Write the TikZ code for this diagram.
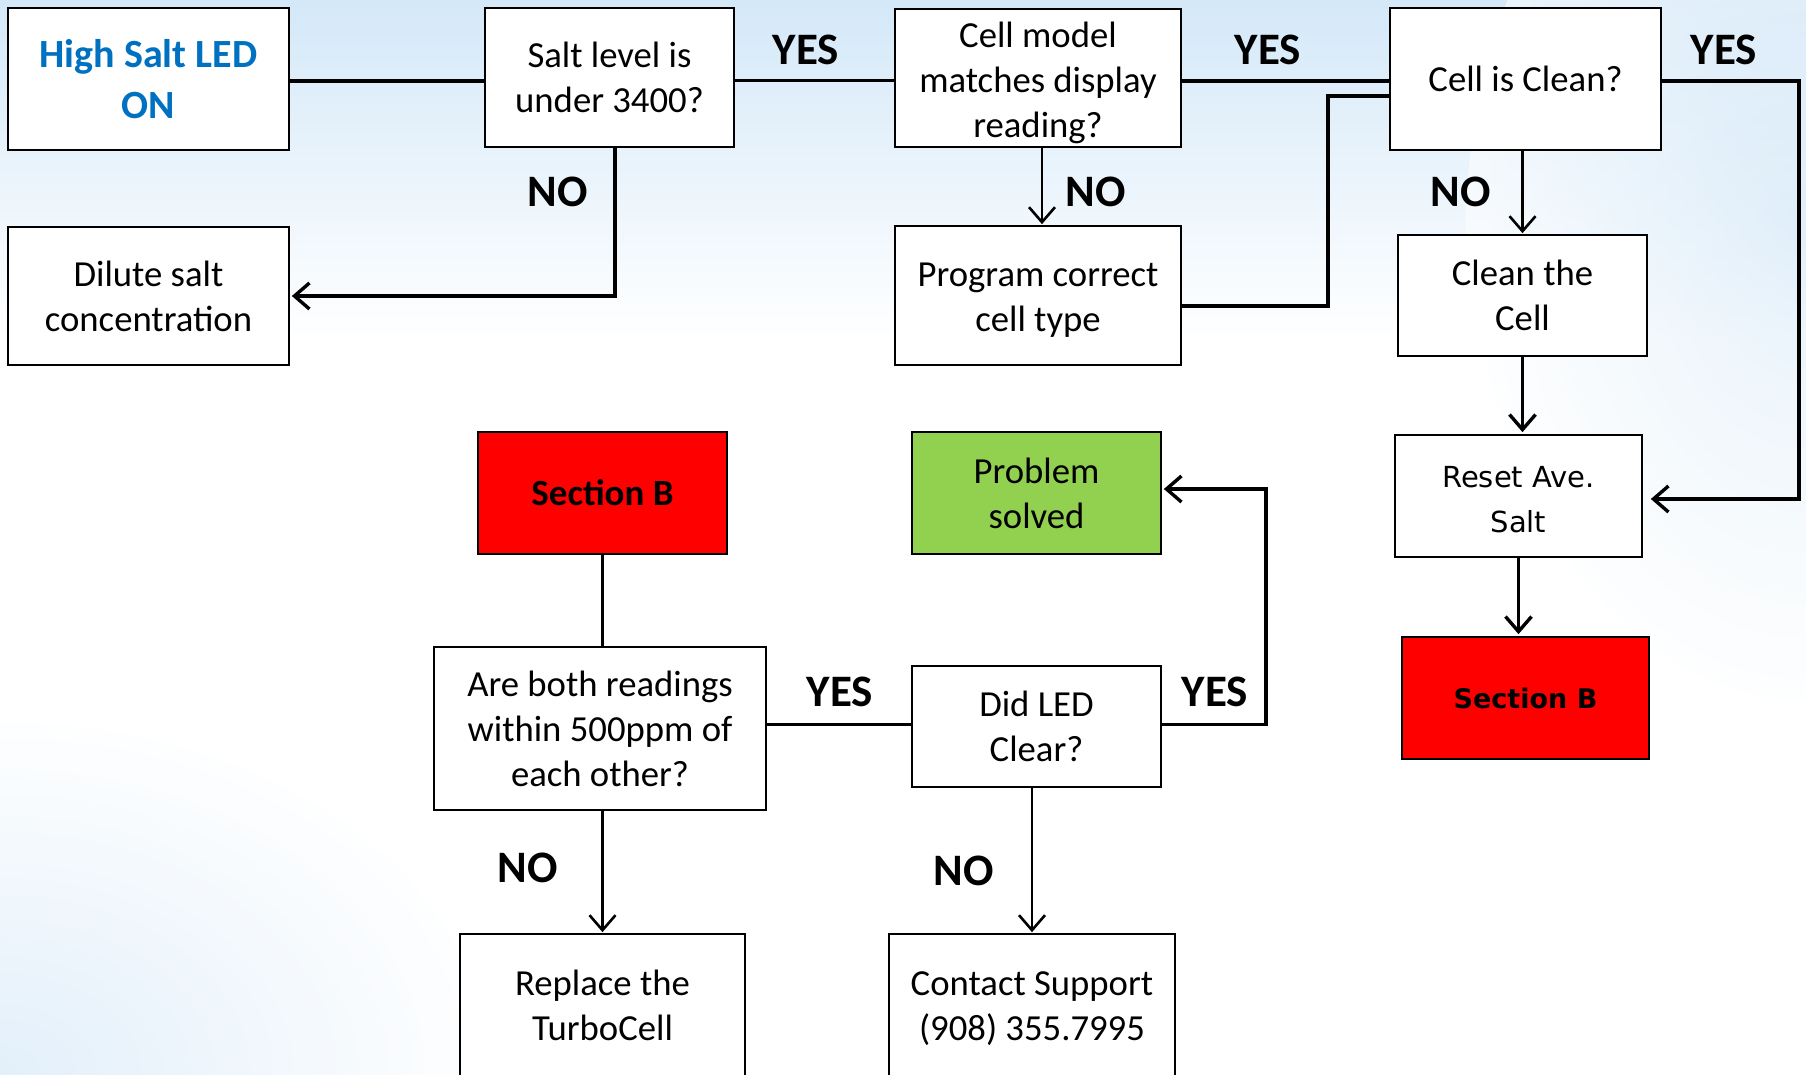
\documentclass[tikz,border=0pt]{standalone}
\usepackage{fontspec}
\setmainfont{Carlito}
\newfontfamily\dvs{DejaVu Sans}
\usetikzlibrary{arrows.meta}
\definecolor{hsblue}{RGB}{0,112,192}
\definecolor{bgblue}{RGB}{212,232,248}
\definecolor{secred}{RGB}{255,0,0}
\definecolor{okgreen}{RGB}{146,208,80}
\begin{document}
\begin{tikzpicture}[x=1pt,y=-1pt,
  box/.style={draw=black, line width=1.7pt, fill=white, align=center, inner sep=0pt,
    font=\fontsize{36.7}{45}\selectfont},
  lbl/.style={font=\bfseries\fontsize{45}{50}\selectfont, inner sep=0pt},
  conn/.style={line width=3.4pt},
  arr/.style={line width=3.4pt, -{Straight Barb[length=15pt,width=26pt]}, shorten >=2pt},
  varr/.style={line width=2.6pt, -{Straight Barb[length=15pt,width=26pt]}, shorten >=1pt},
]
\useasboundingbox (0,0) rectangle (1806,1074);
% background
\fill[white] (0,0) rectangle (1806,1074);
\shade[top color=bgblue, bottom color=white] (0,0) rectangle (1806,340);
\shade[inner color=bgblue, outer color=white, opacity=0.55] (1806,230) ellipse (340 and 480);
\shade[inner color=bgblue, outer color=white, opacity=0.65] (0,1074) ellipse (500 and 360);

% boxes
\node[box, minimum width=281, minimum height=142, font=\bfseries\fontsize{40}{51}\selectfont, text=hsblue] (hs) at (148.5,79) {High Salt LED\\ON};
\node[box, minimum width=249, minimum height=139] (sl) at (609.5,77.5) {Salt level is\\under 3400?};
\node[box, minimum width=286, minimum height=138] (cm) at (1038,78) {\rule{0pt}{34.5pt}Cell model\\matches display\\reading?};
\node[box, minimum width=271, minimum height=142] (cc) at (1525.5,79) {Cell is Clean?};
\node[box, minimum width=281, minimum height=138] (di) at (148.5,296) {Dilute salt\\concentration};
\node[box, minimum width=286, minimum height=139] (pc) at (1038,295.5) {\rule{0pt}{33pt}Program correct\\cell type};
\node[box, minimum width=249, minimum height=121] (cl) at (1522.5,295.5) {Clean the\\Cell};
\node[box, minimum width=247, minimum height=122, font=\dvs\fontsize{29}{45}\selectfont] (ra) at (1518.5,496) {\rule{0pt}{29pt}Reset Ave.\\Salt};
\node[box, minimum width=247, minimum height=122, fill=secred, font=\dvs\bfseries\fontsize{27}{40}\selectfont] (sbr) at (1525.5,698) {Section B};
\node[box, minimum width=249, minimum height=122, fill=secred, font=\bfseries\fontsize{37}{45}\selectfont] (sbl) at (602.5,493) {Section B};
\node[box, minimum width=249, minimum height=122, fill=okgreen] (ps) at (1036.5,493) {Problem\\solved};
\node[box, minimum width=332, minimum height=163] (ab) at (600,728.5) {Are both readings\\within 500ppm of\\each other?};
\node[box, minimum width=249, minimum height=121] (dl) at (1036.5,726.5) {Did LED\\Clear?};
\node[box, minimum width=285, minimum height=142] (rt) at (602.5,1005) {Replace the\\TurboCell};
\node[box, minimum width=286, minimum height=142] (cs) at (1032,1005) {\rule{0pt}{30.5pt}Contact Support\\(908) 355.7995};

% junction coordinates
\coordinate (j1) at (1328,96);
\coordinate (j2) at (1799,499);
\coordinate (j3) at (1266,489);
\coordinate (j4) at (615,296);
\coordinate (j5) at (1042,0);

% connectors
\draw[conn] ([yshift=-2pt]hs.east) -- ([yshift=-2pt]hs.east -| sl.west);
\draw[conn] ([yshift=-3pt]sl.east) -- ([yshift=-3pt]sl.east -| cm.west);
\draw[conn] ([yshift=-3pt]cm.east) -- ([yshift=-3pt]cm.east -| cc.west);
\draw[arr, shorten >=8pt] ([yshift=-2pt]cc.east) -| (j2) -- (j2 -| ra.east);
\draw[arr] (j4 |- sl.south) -- (j4) -- (j4 -| di.east);
\draw[varr] (j5 |- cm.south) -- (j5 |- pc.north);
\draw[conn] ([yshift=-10.5pt]pc.east) -| (j1) -- (j1 -| cc.west);
\draw[varr] (cl.north |- cc.south) -- (cl.north);
\draw[arr] (cl.south) -- (cl.south |- ra.north);
\draw[arr] (ra.south) -- (ra.south |- sbr.north);
\draw[conn] (sbl.south) -- (sbl.south |- ab.north);
\draw[conn] ([yshift=2pt]ab.east |- dl.west) -- ([yshift=2pt]dl.west);
\draw[arr] ([yshift=2pt]dl.east) -| (j3) -- (j3 -| ps.east);
\draw[varr] (rt.north |- ab.south) -- (rt.north);
\draw[varr] (cs.north |- dl.south) -- (cs.north);

% labels
\node[lbl] (y1) at (806,50) {YES};
\node[lbl] (y2) at (1268,50) {YES};
\node[lbl] (y3) at (1724,50) {YES};
\node[lbl] (n1) at (558,192) {NO};
\node[lbl] (n2) at (1096,192) {NO};
\node[lbl] (n3) at (1461,192) {NO};
\node[lbl] (y4) at (840,692) {YES};
\node[lbl] (y5) at (1215,692) {YES};
\node[lbl] (n4) at (528,868) {NO};
\node[lbl] (n5) at (964,871) {NO};
\end{tikzpicture}
\end{document}
